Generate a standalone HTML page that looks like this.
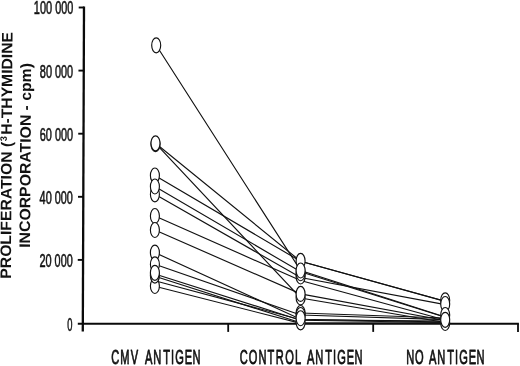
<!DOCTYPE html>
<html><head><meta charset="utf-8"><title>Proliferation</title>
<style>
html,body{margin:0;padding:0;background:#fff;}
svg{display:block;}
text{font-family:"Liberation Sans",sans-serif;fill:#111;stroke:#111;stroke-linejoin:round;}
.t{filter:url(#idf);}
</style></head><body>
<svg width="520" height="366" viewBox="0 0 520 366">
<defs><filter id="idf" x="0" y="0" width="520" height="366" filterUnits="userSpaceOnUse"><feOffset dx="0" dy="0"/></filter></defs>
<rect width="520" height="366" fill="#fff"/>

<g stroke="#0a0a0a" fill="none" stroke-linecap="butt">
<line x1="84.00" y1="6.4" x2="82.80" y2="331.6" stroke-width="2.3"/>
<line x1="77.8" y1="323.7" x2="518.9" y2="323.7" stroke-width="2.0"/>
<line x1="78.70" y1="7.5" x2="84.00" y2="7.5" stroke-width="1.9"/>
<line x1="78.46" y1="70.6" x2="83.76" y2="70.6" stroke-width="1.9"/>
<line x1="78.23" y1="133.7" x2="83.53" y2="133.7" stroke-width="1.9"/>
<line x1="78.00" y1="196.8" x2="83.30" y2="196.8" stroke-width="1.9"/>
<line x1="77.76" y1="259.9" x2="83.06" y2="259.9" stroke-width="1.9"/>
<line x1="228.2" y1="323.7" x2="228.2" y2="331.9" stroke-width="1.8"/>
<line x1="373.2" y1="323.7" x2="373.2" y2="331.9" stroke-width="1.8"/>
<line x1="518.0" y1="323.7" x2="518.0" y2="331.9" stroke-width="1.8"/>
</g>
<g stroke="#111" stroke-width="1.15" fill="none">
<polyline points="156.2,45.3 300.6,270.5 445.2,317.0"/>
<polyline points="155.5,143.3 300.6,261.3 445.2,301.4"/>
<polyline points="155.5,143.3 300.6,298.0 445.2,322.5"/>
<polyline points="154.9,175.5 300.6,261.3 445.2,301.2"/>
<polyline points="154.9,186.5 300.6,271.8 445.2,317.3"/>
<polyline points="154.9,194.3 300.6,277.5 445.2,304.6"/>
<polyline points="154.9,216.0 300.6,280.5 445.2,320.0"/>
<polyline points="154.9,230.0 300.6,293.9 445.2,320.5"/>
<polyline points="154.9,252.6 300.6,319.3 445.2,322.0"/>
<polyline points="154.9,264.3 300.6,315.0 445.2,319.6"/>
<polyline points="154.9,274.0 300.6,320.2 445.2,322.5"/>
<polyline points="154.9,276.3 300.6,322.8 445.2,323.0"/>
<polyline points="154.9,280.8 300.6,319.7 445.2,321.0"/>
<polyline points="154.9,286.2 300.6,323.4 445.2,323.2"/>
<polyline points="300.6,313.0 445.2,318.0"/>
</g>
<g stroke="#111" stroke-width="1.15" fill="#fff">
<ellipse cx="156.2" cy="45.3" rx="4.5" ry="7.5"/>
<ellipse cx="155.5" cy="144.1" rx="4.5" ry="7.5"/>
<ellipse cx="155.5" cy="143.3" rx="4.5" ry="7.5"/>
<ellipse cx="154.9" cy="175.5" rx="4.5" ry="7.5"/>
<ellipse cx="154.9" cy="194.3" rx="4.5" ry="7.5"/>
<ellipse cx="154.9" cy="186.5" rx="4.5" ry="7.5"/>
<ellipse cx="154.9" cy="216.0" rx="4.5" ry="7.5"/>
<ellipse cx="154.9" cy="230.0" rx="4.5" ry="7.5"/>
<ellipse cx="154.9" cy="252.6" rx="4.5" ry="7.5"/>
<ellipse cx="154.9" cy="264.3" rx="4.5" ry="7.5"/>
<ellipse cx="154.9" cy="286.0" rx="4.5" ry="7.5"/>
<ellipse cx="154.9" cy="275.6" rx="4.5" ry="7.5"/>
<ellipse cx="154.9" cy="272.8" rx="4.5" ry="7.5"/>
<ellipse cx="300.6" cy="260.9" rx="4.5" ry="7.5"/>
<ellipse cx="300.6" cy="276.5" rx="4.5" ry="7.5"/>
<ellipse cx="300.6" cy="273.2" rx="4.5" ry="7.5"/>
<ellipse cx="300.6" cy="270.5" rx="4.5" ry="7.5"/>
<ellipse cx="300.6" cy="297.4" rx="4.5" ry="7.5"/>
<ellipse cx="300.6" cy="293.9" rx="4.5" ry="7.5"/>
<ellipse cx="300.6" cy="313.0" rx="4.5" ry="7.5"/>
<ellipse cx="300.6" cy="315.0" rx="4.5" ry="7.5"/>
<ellipse cx="300.6" cy="322.3" rx="4.5" ry="7.5"/>
<ellipse cx="300.6" cy="318.2" rx="4.5" ry="7.5"/>
<ellipse cx="445.2" cy="300.3" rx="4.5" ry="7.5"/>
<ellipse cx="445.2" cy="304.0" rx="4.5" ry="7.5"/>
<ellipse cx="445.2" cy="315.0" rx="4.5" ry="7.5"/>
<ellipse cx="445.2" cy="323.0" rx="4.5" ry="7.5"/>
<ellipse cx="445.2" cy="319.8" rx="4.5" ry="7.5"/>
</g>
<g class="t" font-size="18.5" stroke-width="0.6">
<text x="33.80" y="14.40" textLength="18.30" lengthAdjust="spacingAndGlyphs">100</text>
<text x="55.20" y="14.40" textLength="18.10" lengthAdjust="spacingAndGlyphs">000</text>
<text x="39.80" y="78.00" textLength="12.20" lengthAdjust="spacingAndGlyphs">80</text>
<text x="55.05" y="78.00" textLength="18.10" lengthAdjust="spacingAndGlyphs">000</text>
<text x="39.70" y="141.10" textLength="12.20" lengthAdjust="spacingAndGlyphs">60</text>
<text x="54.90" y="141.10" textLength="18.10" lengthAdjust="spacingAndGlyphs">000</text>
<text x="39.60" y="204.20" textLength="12.20" lengthAdjust="spacingAndGlyphs">40</text>
<text x="54.75" y="204.20" textLength="18.10" lengthAdjust="spacingAndGlyphs">000</text>
<text x="39.50" y="267.30" textLength="12.20" lengthAdjust="spacingAndGlyphs">20</text>
<text x="54.60" y="267.30" textLength="18.10" lengthAdjust="spacingAndGlyphs">000</text>
<text x="67.30" y="330.90" textLength="5.20" lengthAdjust="spacingAndGlyphs">0</text>
</g>
<g class="t" font-size="19.8" stroke-width="0.8">
<text transform="translate(111.30,363.8) scale(0.56,1)" letter-spacing="1.88" dx="0.00 0.00 0.00">CMV</text>
<text transform="translate(144.90,363.8) scale(0.56,1)" letter-spacing="1.57" dx="0.00 0.00 1.96 0.54 0.36 0.00 -1.07">ANTIGEN</text>
<text transform="translate(239.80,363.8) scale(0.56,1)" letter-spacing="1.79" dx="0.00 0.00 0.00 0.00 1.07 0.89 0.36">CONTROL</text>
<text transform="translate(306.90,363.8) scale(0.56,1)" letter-spacing="1.57" dx="0.00 0.00 1.96 0.54 0.36 0.00 -1.07">ANTIGEN</text>
<text transform="translate(406.20,363.8) scale(0.56,1)" letter-spacing="1.61" dx="0.00 0.00">NO</text>
<text transform="translate(428.90,363.8) scale(0.56,1)" letter-spacing="1.57" dx="0.00 0.00 1.96 0.54 0.36 0.00 -1.07">ANTIGEN</text>
</g>
<g class="t" font-size="15.3" font-weight="bold" stroke-width="0">
<text transform="translate(10.89,278.70) rotate(-89.63)" textLength="127.20" lengthAdjust="spacingAndGlyphs">PROLIFERATION</text>
<text transform="translate(11.82,134.70) rotate(-89.63)" textLength="102.60" lengthAdjust="spacingAndGlyphs">H-THYMIDINE</text>
<text transform="translate(29.99,247.80) rotate(-89.63)" textLength="133.10" lengthAdjust="spacingAndGlyphs">INCORPORATION</text>
<text transform="translate(30.94,100.80) rotate(-89.63)" textLength="37.70" lengthAdjust="spacingAndGlyphs">cpm)</text>
<text transform="translate(12.05,147.0) rotate(-89.63)">(</text>
<text transform="translate(6.78,141.3) rotate(-89.63)" font-size="9.3">3</text>
<text transform="translate(30.89,110.6) rotate(-89.63)">-</text>
</g>
</svg></body></html>
